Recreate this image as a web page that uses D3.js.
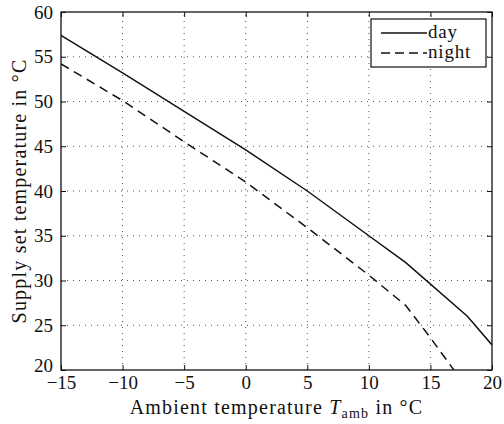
<!DOCTYPE html>
<html>
<head>
<meta charset="utf-8">
<script src="https://cdn.jsdelivr.net/npm/d3@7"></script>
<style>
  body { margin: 0; background: #fff; }
  svg text { font-family: 'Liberation Serif', serif; }
</style>
</head>
<body>
<div id="chart"></div>
<script>
// values
const dayTemp = [-15, -10, -5, 0, 5, 10, 13, 18, 20];
const daySupply = [57.4, 53.2, 48.9, 44.6, 40.0, 35.0, 32.0, 26.0, 22.8];
const nightTemp = [-15, -10, -5, 0, 5, 10, 13, 15, 16.9];
const nightSupply = [54.2, 50.1, 45.5, 41.0, 35.9, 30.6, 27.2, 23.6, 20.0];
const xTicks = [-15, -10, -5, 0, 5, 10, 15, 20];
const yTicks = [20, 25, 30, 35, 40, 45, 50, 55, 60];
const seriesNames = ['day', 'night'];

const FONT = 'Liberation Serif';
const width = 504, height = 424;
const margin = { top: 12, right: 12, bottom: 54, left: 61 };

const svg = d3.select('#chart').append('svg')
  .attr('width', width)
  .attr('height', height)
  .attr('font-family', FONT);

const x = d3.scaleLinear().domain([-15, 20]).range([margin.left, width - margin.right]);
const y = d3.scaleLinear().domain([20, 60]).range([height - margin.bottom, margin.top]);

const fmt = (d) => (d < 0 ? '\u2212' + Math.abs(d) : String(d));

// grid
const grid = svg.append('g').attr('class', 'grid')
  .attr('stroke', '#555').attr('stroke-width', 1).attr('stroke-dasharray', '1,5');
grid.selectAll('line.gx').data(xTicks.slice(1, -1)).join('line')
  .attr('class', 'gx')
  .attr('x1', (d) => x(d)).attr('x2', (d) => x(d))
  .attr('y1', y(20)).attr('y2', y(60));
grid.selectAll('line.gy').data(yTicks.slice(1, -1)).join('line')
  .attr('class', 'gy')
  .attr('y1', (d) => y(d)).attr('y2', (d) => y(d))
  .attr('x1', x(-15)).attr('x2', x(20));

// axes with inward ticks on all four sides
const tickLen = 5;
const styleAxis = (g) => {
  g.attr('font-family', FONT).attr('font-size', 19);
  g.selectAll('text').attr('fill', '#111');
};
svg.append('g')
  .attr('transform', `translate(0,${y(20)})`)
  .call(d3.axisBottom(x).tickValues(xTicks).tickFormat(fmt).tickSizeInner(-tickLen).tickSizeOuter(0).tickPadding(6))
  .call(styleAxis);
svg.append('g')
  .attr('transform', `translate(0,${y(60)})`)
  .call(d3.axisTop(x).tickValues(xTicks).tickFormat('').tickSizeInner(-tickLen).tickSizeOuter(0));
svg.append('g')
  .attr('transform', `translate(${x(-15)},0)`)
  .call(d3.axisLeft(y).tickValues(yTicks).tickFormat(fmt).tickSizeInner(-tickLen).tickSizeOuter(0).tickPadding(8))
  .call(styleAxis)
  // lift the lowest label a little so it clears the -15 below it
  .call((g) => g.selectAll('.tick').filter((d) => d === 20).select('text').attr('dy', '0.1em'));
svg.append('g')
  .attr('transform', `translate(${x(20)},0)`)
  .call(d3.axisRight(y).tickValues(yTicks).tickFormat('').tickSizeInner(-tickLen).tickSizeOuter(0));

svg.selectAll('.domain').remove();
svg.selectAll('.tick line').attr('stroke', '#111');

// box
svg.append('rect')
  .attr('x', x(-15)).attr('y', y(60))
  .attr('width', x(20) - x(-15)).attr('height', y(20) - y(60))
  .attr('fill', 'none').attr('stroke', '#111').attr('stroke-width', 1.3);

// clip
svg.append('clipPath').attr('id', 'plot-clip')
  .append('rect')
  .attr('x', x(-15)).attr('y', y(60))
  .attr('width', x(20) - x(-15)).attr('height', y(20) - y(60));

const line = d3.line().x((d) => x(d[0])).y((d) => y(d[1]));
const dayData = d3.zip(dayTemp, daySupply);
const nightData = d3.zip(nightTemp, nightSupply);

const lines = svg.append('g').attr('clip-path', 'url(#plot-clip)');
lines.append('path').datum(dayData)
  .attr('d', line).attr('fill', 'none')
  .attr('stroke', '#111').attr('stroke-width', 1.5);
lines.append('path').datum(nightData)
  .attr('d', line).attr('fill', 'none')
  .attr('stroke', '#111').attr('stroke-width', 1.5)
  .attr('stroke-dasharray', '9,6');

// legend
const legend = svg.append('g').attr('transform', 'translate(371,19)');
legend.append('rect')
  .attr('width', 115).attr('height', 48)
  .attr('fill', '#fff').attr('stroke', '#111').attr('stroke-width', 1.2);
seriesNames.forEach((name, i) => {
  const ly = 14 + i * 20;
  legend.append('line')
    .attr('x1', 10).attr('x2', 56).attr('y1', ly).attr('y2', ly)
    .attr('stroke', '#111').attr('stroke-width', 1.5)
    .attr('stroke-dasharray', i === 1 ? '9,5' : null);
  legend.append('text')
    .attr('x', 57).attr('y', ly + 5)
    .attr('font-size', 19)
    .attr('letter-spacing', 0.8)
    .attr('fill', '#111')
    .text(name);
});

// axis labels
const xl = svg.append('text')
  .attr('x', (x(-15) + x(20)) / 2).attr('y', 414)
  .attr('text-anchor', 'middle').attr('font-size', 20)
  .attr('letter-spacing', 1.2)
  .attr('fill', '#111');
xl.append('tspan').text('Ambient temperature ');
xl.append('tspan').attr('font-style', 'italic').text('T');
xl.append('tspan').attr('font-size', 14).attr('dy', 4).text('amb');
xl.append('tspan').attr('dy', -4).text(' in \u00b0C');

svg.append('text')
  .attr('transform', `translate(26,${(y(20) + y(60)) / 2}) rotate(-90)`)
  .attr('text-anchor', 'middle').attr('font-size', 20)
  .attr('letter-spacing', 1.2)
  .attr('fill', '#111')
  .text('Supply set temperature in \u00b0C');
</script>
</body>
</html>
